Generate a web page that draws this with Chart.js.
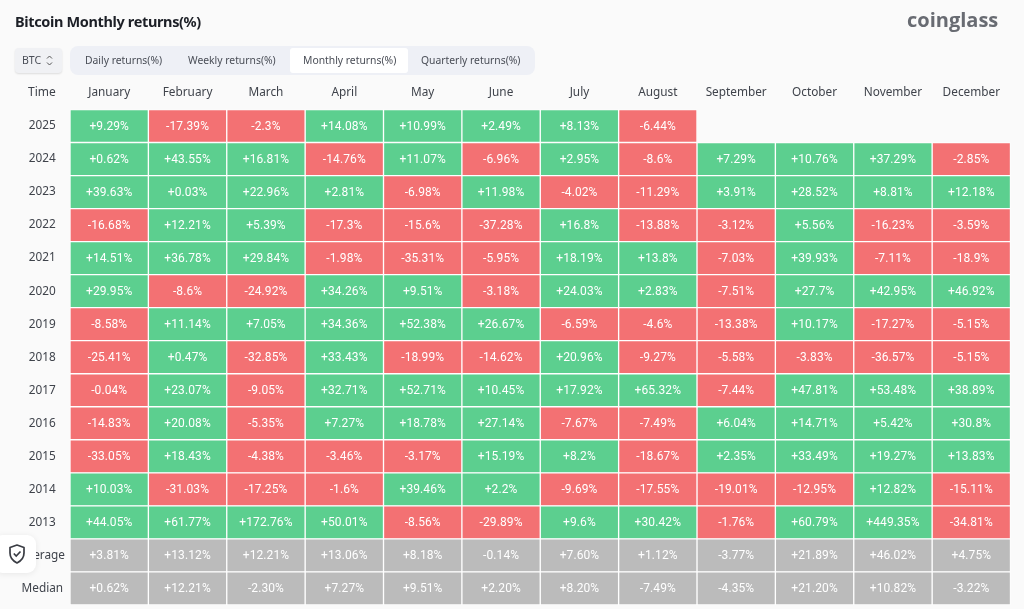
<!DOCTYPE html>
<html><head><meta charset="utf-8">
<script src="https://cdn.jsdelivr.net/npm/chart.js@4"></script>
<style>
html,body{margin:0;padding:0;background:#fafafa;width:1024px;height:609px;overflow:hidden}
#wrap{position:relative;width:1024px;height:609px}
#c{position:absolute;left:0;top:0}
.t{position:absolute;white-space:nowrap;font-family:"Noto Sans",sans-serif}
#title{left:15px;top:11px;font-size:14.5px;font-weight:700;color:#1c1f26;letter-spacing:-.36px}
#logo{left:907px;top:6px;font-family:"Open Sans",sans-serif;font-size:20px;font-weight:700;color:#686b72}
#sel{left:15px;top:48px;width:47px;height:25px;background:#f0f1f4;border-radius:4px;box-shadow:0 1px 2px rgba(0,0,0,.12);font-size:10.5px;line-height:25px;color:#4a4e57;padding-left:7px;box-sizing:border-box}
#tabs{left:70px;top:46px;width:465px;height:29px;background:#eef0f6;border-radius:8px}
#active{left:290px;top:48px;width:118px;height:25px;background:#fff;border-radius:3px}
.tab{top:53px;font-size:10.35px;color:#4a4e57}
#time{left:28px;top:83px;font-size:12px;color:#3f434b}
#badge{left:-6px;top:535px;width:42px;height:38px;background:#fff;border-radius:9px;box-shadow:0 1px 6px rgba(0,0,0,.08)}
</style></head><body><div id="wrap">
<canvas id="c" width="1024" height="609"></canvas>
<div class="t" id="title">Bitcoin Monthly returns(%)</div>
<div class="t" id="logo">coinglass</div>
<div class="t" id="sel">BTC<svg style="position:absolute;left:30px;top:6px" width="9" height="13" viewBox="0 0 9 13"><path d="M2 4.5 4.5 2 7 4.5M2 8.5 4.5 11 7 8.5" fill="none" stroke="#555" stroke-width="1"/></svg></div>
<div class="t" id="tabs"></div>
<div class="t" id="active"></div>
<div class="t tab" style="left:85px">Daily returns(%)</div>
<div class="t tab" style="left:188px">Weekly returns(%)</div>
<div class="t tab" style="left:303px">Monthly returns(%)</div>
<div class="t tab" style="left:421px">Quarterly returns(%)</div>
<div class="t" id="time">Time</div>
<div class="t" id="badge"><svg style="position:absolute;left:13px;top:8px" width="20" height="22" viewBox="0 0 20 22"><path d="M10 2 17 4.5V10c0 5-3 8-7 10C6 18 3 15 3 10V4.5Z" fill="none" stroke="#3a3d44" stroke-width="1.7" stroke-linejoin="round"/><path d="M6.8 10.5 9.2 13 13.5 8.5" fill="none" stroke="#3a3d44" stroke-width="1.7"/></svg></div>
</div>
<script>
const months = ["January","February","March","April","May","June","July","August","September","October","November","December"];
const rowLabels = ["2025","2024","2023","2022","2021","2020","2019","2018","2017","2016","2015","2014","2013","Average","Median"];
const y2025 = [9.29,-17.39,-2.3,14.08,10.99,2.49,8.13,-6.44,null,null,null,null];
const y2024 = [0.62,43.55,16.81,-14.76,11.07,-6.96,2.95,-8.6,7.29,10.76,37.29,-2.85];
const y2023 = [39.63,0.03,22.96,2.81,-6.98,11.98,-4.02,-11.29,3.91,28.52,8.81,12.18];
const y2022 = [-16.68,12.21,5.39,-17.3,-15.6,-37.28,16.8,-13.88,-3.12,5.56,-16.23,-3.59];
const y2021 = [14.51,36.78,29.84,-1.98,-35.31,-5.95,18.19,13.8,-7.03,39.93,-7.11,-18.9];
const y2020 = [29.95,-8.6,-24.92,34.26,9.51,-3.18,24.03,2.83,-7.51,27.7,42.95,46.92];
const y2019 = [-8.58,11.14,7.05,34.36,52.38,26.67,-6.59,-4.6,-13.38,10.17,-17.27,-5.15];
const y2018 = [-25.41,0.47,-32.85,33.43,-18.99,-14.62,20.96,-9.27,-5.58,-3.83,-36.57,-5.15];
const y2017 = [-0.04,23.07,-9.05,32.71,52.71,10.45,17.92,65.32,-7.44,47.81,53.48,38.89];
const y2016 = [-14.83,20.08,-5.35,7.27,18.78,27.14,-7.67,-7.49,6.04,14.71,5.42,30.8];
const y2015 = [-33.05,18.43,-4.38,-3.46,-3.17,15.19,8.2,-18.67,2.35,33.49,19.27,13.83];
const y2014 = [10.03,-31.03,-17.25,-1.6,39.46,2.2,-9.69,-17.55,-19.01,-12.95,12.82,-15.11];
const y2013 = [44.05,61.77,172.76,50.01,-8.56,-29.89,9.6,30.42,-1.76,60.79,449.35,-34.81];
const average = [3.81,13.12,12.21,13.06,8.18,-0.14,7.60,1.12,-3.77,21.89,46.02,4.75];
const median = [0.62,12.21,-2.30,7.27,9.51,2.20,8.20,-7.49,-4.35,21.20,10.82,-3.22];
const table = [y2025,y2024,y2023,y2022,y2021,y2020,y2019,y2018,y2017,y2016,y2015,y2014,y2013,average,median];
const GREEN="#5ccf8f", RED="#f37173", GREY="#bbbbbb";

function fmt(v,row){
  const s = v>=0?"+":"-", a=Math.abs(v);
  const txt = row>=13 ? a.toFixed(2) : String(a);
  return s+txt+"%";
}
const datasets = months.map((m,mi)=>({
  label:m,
  data: table.map(r=> r[mi]===null ? null : [mi,mi+1]),
  backgroundColor: table.map((r,ri)=> ri>=13 ? GREY : (r[mi]>=0?GREEN:RED)),
  borderColor:"#ffffff",
  borderWidth:1,
  borderSkipped:false,
  barPercentage:1,
  categoryPercentage:1,
  grouped:false
}));
const cellText = {
  id:"cellText",
  afterDatasetsDraw(chart){
    const ctx=chart.ctx;
    ctx.save();
    ctx.font='12px Roboto, sans-serif';
    ctx.fillStyle="#ffffff";
    ctx.textAlign="center";ctx.textBaseline="middle";
    if(ctx.letterSpacing!==undefined) ctx.letterSpacing="0.1px";
    chart.data.datasets.forEach((ds,mi)=>{
      chart.getDatasetMeta(mi).data.forEach((el,ri)=>{
        const v=table[ri][mi];
        if(v===null) return;
        const p=el.getProps(["x","base","y"],true);
        ctx.fillText(fmt(v,ri),(p.x+p.base)/2,p.y+0.5);
      });
    });
    ctx.restore();
  }
};
new Chart(document.getElementById("c"),{
  type:"bar",
  data:{labels:rowLabels,datasets},
  options:{
    indexAxis:"y",responsive:false,animation:false,devicePixelRatio:1,
    layout:{padding:{left:0,right:13.5,top:0,bottom:3}},
    plugins:{legend:{display:false},tooltip:{enabled:false},title:{display:false}},
    scales:{
      x:{type:"linear",min:0,max:12,display:false,stacked:false},
      top:{type:"category",labels:months,position:"top",offset:true,
        grid:{display:false},border:{display:false},
        ticks:{color:"#3f434b",font:{family:'"Noto Sans"',size:11.8},padding:1.5,maxRotation:0,autoSkip:false},
        afterFit(a){a.height=109.5;}},
      y:{type:"category",position:"left",
        grid:{display:false},border:{display:false},
        ticks:{color:"#3f434b",font:{family:'"Noto Sans"',size:11.8},padding:-3,autoSkip:false,align:"center",crossAlign:"center"},
        afterFit(a){a.width=70;}}
    }
  },
  plugins:[cellText]
});
</script></body></html>
